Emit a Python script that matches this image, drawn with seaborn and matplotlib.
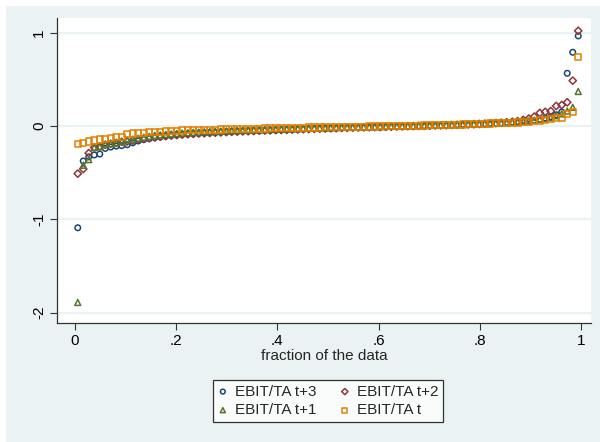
import numpy as np
import pandas as pd
import matplotlib
matplotlib.use("Agg")
import matplotlib.pyplot as plt
from matplotlib.patches import Rectangle
import seaborn as sns

# quantile values (92 sorted obs per series)
ebit_t3 = [-1.09, -0.375, -0.33, -0.31, -0.30, -0.24, -0.225, -0.215, -0.21,
           -0.20, -0.18, -0.16, -0.145, -0.135, -0.125, -0.115, -0.108, -0.10, -0.095,
           -0.09, -0.086, -0.082, -0.078, -0.075, -0.072, -0.069, -0.066, -0.063, -0.06,
           -0.058, -0.056, -0.054, -0.052, -0.05, -0.048, -0.046, -0.044, -0.042, -0.04,
           -0.038, -0.036, -0.034, -0.032, -0.03, -0.028, -0.026, -0.024, -0.022, -0.02,
           -0.019, -0.018, -0.016, -0.015, -0.013, -0.012, -0.01, -0.009, -0.007, -0.006,
           -0.004, -0.003, -0.001, 0.0, 0.002, 0.003, 0.005, 0.006, 0.008, 0.01,
           0.012, 0.014, 0.016, 0.018, 0.02, 0.022, 0.025, 0.028, 0.031, 0.034,
           0.038, 0.042, 0.047, 0.053, 0.06, 0.07, 0.085, 0.10, 0.12, 0.15, 0.565, 0.79, 0.965]
ebit_t2 = [-0.51, -0.46, -0.29, -0.23, -0.22, -0.20, -0.19, -0.18, -0.17,
           -0.165, -0.155, -0.145, -0.138, -0.13, -0.122, -0.115, -0.108, -0.102, -0.097,
           -0.092, -0.088, -0.084, -0.08, -0.077, -0.074, -0.071, -0.068, -0.065, -0.062,
           -0.06, -0.057, -0.055, -0.053, -0.05, -0.048, -0.046, -0.044, -0.042, -0.04,
           -0.038, -0.036, -0.034, -0.032, -0.03, -0.028, -0.026, -0.024, -0.022, -0.02,
           -0.019, -0.017, -0.016, -0.014, -0.013, -0.011, -0.01, -0.008, -0.007, -0.005,
           -0.004, -0.002, -0.001, 0.001, 0.002, 0.004, 0.006, 0.007, 0.009, 0.011,
           0.013, 0.015, 0.017, 0.019, 0.022, 0.025, 0.028, 0.031, 0.035, 0.04,
           0.045, 0.052, 0.065, 0.08, 0.10, 0.14, 0.152, 0.16, 0.215, 0.225, 0.254, 0.486, 1.02]
ebit_t1 = [-1.89, -0.42, -0.36, -0.23, -0.22, -0.20, -0.19, -0.18, -0.165,
           -0.15, -0.14, -0.13, -0.12, -0.11, -0.10, -0.095, -0.09, -0.085, -0.08,
           -0.075, -0.072, -0.068, -0.065, -0.062, -0.06, -0.057, -0.055, -0.053, -0.05,
           -0.048, -0.046, -0.044, -0.042, -0.04, -0.038, -0.036, -0.034, -0.032, -0.03,
           -0.029, -0.027, -0.026, -0.024, -0.023, -0.021, -0.02, -0.018, -0.017, -0.015,
           -0.014, -0.013, -0.011, -0.01, -0.009, -0.007, -0.006, -0.005, -0.003, -0.002,
           -0.001, 0.001, 0.002, 0.004, 0.005, 0.007, 0.008, 0.01, 0.012, 0.013,
           0.015, 0.017, 0.019, 0.021, 0.023, 0.025, 0.027, 0.03, 0.033, 0.036,
           0.04, 0.044, 0.048, 0.053, 0.06, 0.07, 0.08, 0.09, 0.11, 0.13, 0.16, 0.20, 0.37]
ebit_t = [-0.19, -0.185, -0.165, -0.155, -0.145, -0.135, -0.13, -0.12, -0.12,
          -0.085, -0.08, -0.075, -0.072, -0.068, -0.065, -0.062, -0.058, -0.055, -0.05,
          -0.047, -0.046, -0.045, -0.043, -0.042, -0.04, -0.039, -0.038, -0.036, -0.034,
          -0.033, -0.032, -0.031, -0.029, -0.028, -0.027, -0.025, -0.024, -0.023, -0.021,
          -0.02, -0.019, -0.018, -0.017, -0.016, -0.015, -0.014, -0.013, -0.012, -0.011,
          -0.01, -0.009, -0.008, -0.007, -0.006, -0.005, -0.004, -0.003, -0.002, -0.001,
          0.0, 0.001, 0.003, 0.004, 0.006, 0.007, 0.009, 0.01, 0.012, 0.013,
          0.015, 0.017, 0.019, 0.021, 0.023, 0.025, 0.027, 0.029, 0.031, 0.033,
          0.035, 0.038, 0.042, 0.046, 0.055, 0.06, 0.068, 0.072, 0.082, 0.086, 0.125, 0.147, 0.74]

labels = ["EBIT/TA t+3", "EBIT/TA t+2", "EBIT/TA t+1", "EBIT/TA t"]
colors = ["#1a476f", "#90353b", "#55752f", "#e37e00"]
markers = ["o", "D", "^", "s"]
sizes = [16, 14, 18, 20]
x_ticks = [0, 0.2, 0.4, 0.6, 0.8, 1]
x_ticklabels = ["0", ".2", ".4", ".6", ".8", "1"]
y_ticks = [-2, -1, 0, 1]

n = len(ebit_t)
frac = (np.arange(1, n + 1) - 0.5) / n

bg = "#eaf2f3"
sns.set_theme(style="white")
plt.rcParams["font.family"] = ["Liberation Sans", "DejaVu Sans"]
plt.rcParams["axes.unicode_minus"] = False

fig = plt.figure(figsize=(6, 4.42), dpi=100, facecolor="white")
fig.patches.append(Rectangle((6 / 600, 0), 1, 1 - 6 / 442, transform=fig.transFigure,
                             facecolor=bg, edgecolor="none", zorder=-10))
ax = fig.add_axes([57 / 600, 1 - 323 / 442, (591 - 57) / 600, (323 - 18) / 442])
ax.set_facecolor("white")

for y in y_ticks:
    ax.axhline(y, color=bg, lw=1.6, zorder=0)

series = [ebit_t3, ebit_t2, ebit_t1, ebit_t]
for vals, lab, col, mk, sz in zip(series, labels, colors, markers, sizes):
    df = pd.DataFrame({"frac": frac, "val": vals})
    sns.scatterplot(data=df, x="frac", y="val", ax=ax, marker=mk, s=sz,
                    facecolor="none", edgecolor=col, linewidth=1.1, label=lab,
                    zorder=3)

ax.set_xlim(-0.0356, 1.0198)
ax.set_ylim(-2.11, 1.157)
ax.set_xticks(x_ticks)
ax.set_xticklabels(x_ticklabels)
ax.set_yticks(y_ticks)
ax.set_yticklabels([str(v) for v in y_ticks], rotation=90, va="center")
ax.tick_params(axis="both", which="both", direction="out", length=5, width=0.8,
               color="#333333", labelsize=11, labelcolor="black", pad=3,
               left=True, bottom=True)
for side in ["top", "right"]:
    ax.spines[side].set_visible(False)
for side in ["left", "bottom"]:
    ax.spines[side].set_color("#333333")
    ax.spines[side].set_linewidth(0.9)
ax.set_xlabel("fraction of the data", fontsize=11, labelpad=1)
ax.set_ylabel("")

h, l = ax.get_legend_handles_labels()
order = [0, 2, 1, 3]
leg = ax.legend([h[i] for i in order], [l[i] for i in order], ncol=2,
                loc="upper center", bbox_to_anchor=(328 / 600, 1 - 380 / 442),
                bbox_transform=fig.transFigure, borderaxespad=0, frameon=True,
                fancybox=False, fontsize=11, handletextpad=0.45, columnspacing=1.5,
                borderpad=0.3, labelspacing=0.3, markerscale=0.85, handlelength=0.7)
leg.get_frame().set_edgecolor("black")
leg.get_frame().set_linewidth(0.9)
leg.get_frame().set_facecolor("white")

fig.savefig("out.png", dpi=100, facecolor=fig.get_facecolor())
